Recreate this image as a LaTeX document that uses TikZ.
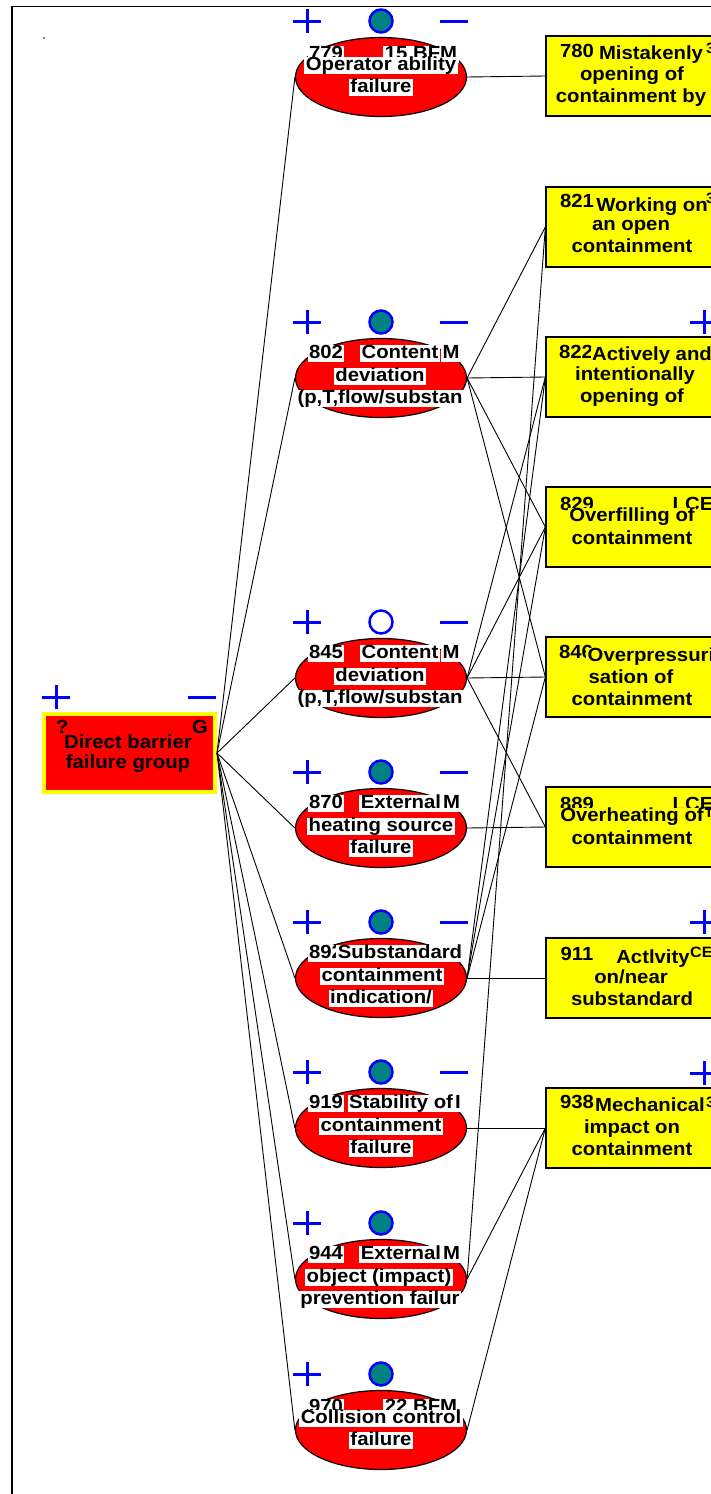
\documentclass[tikz,border=0pt]{standalone}
\usepackage{fontspec}
\setmainfont{Liberation Sans}[FakeStretch=1.07]
\usetikzlibrary{shapes.geometric}
\definecolor{signblue}{RGB}{0,0,255}
\definecolor{lampteal}{RGB}{0,128,128}
\definecolor{bred}{RGB}{255,0,0}
\definecolor{byellow}{RGB}{255,255,0}
\newcommand\signplus[2]{\draw[signline] (#1-14,#2) -- (#1+14,#2) (#1,#2-12) -- (#1,#2+12);}
\newcommand\signminus[2]{\draw[signline] (#1-14,#2) -- (#1+14,#2);}
\begin{document}
\begin{tikzpicture}[x=1pt,y=-1pt,
  txt/.style={font=\fontsize{19}{21}\selectfont\bfseries, inner xsep=1.5pt, inner ysep=0pt, text height=13.5pt, text depth=3.5pt},
  small/.style={font=\fontsize{15}{16}\selectfont\bfseries, inner sep=0pt, anchor=west},
  wl/.style={txt, fill=white},
  yl/.style={txt, fill=byellow},
  rl/.style={txt, fill=bred},
  bubble/.style={ellipse, draw=black, line width=1.2pt, fill=bred, minimum width=171pt, minimum height=79pt, inner sep=0pt},
  card/.style={rectangle, draw=black, line width=1.3pt, fill=byellow, minimum width=170pt, minimum height=80pt, inner sep=0pt},
  link/.style={draw=black, line width=0.9pt},
  signline/.style={draw=signblue, line width=3pt},
  lamp/.style={circle, draw=signblue, line width=2.5pt, fill=lampteal, minimum size=23pt, inner sep=0pt},
]
\useasboundingbox (0,0) rectangle (711,1494);
\clip (0,0) rectangle (711,1494);

% frame
\draw[line width=1.8pt] (12,1494) -- (12,6.5) -- (711,6.5);
\fill (44,38) circle (0.8);

% group node
\node[rectangle, draw=byellow, line width=4pt, fill=bred, minimum width=171pt, minimum height=78pt, inner sep=0pt] (grp) at (129.5,753) {};
\node[txt] (grpid) at (62,728) {?};
\node[txt] (grpcode) at (200,728) {G};
\node[rl] (grpt1) at (128,743) {Direct barrier};
\node[rl] (grpt2) at (128,763) {failure group};
\signplus{56}{697}
\signminus{202}{697}

% barrier bubbles
\node[bubble] (b779) at (381,77) {};
\node[bubble] (b802) at (381,378) {};
\node[bubble] (b845) at (381,678) {};
\node[bubble] (b870) at (381,828) {};
\node[bubble] (b892) at (381,978) {};
\node[bubble] (b919) at (381,1128) {};
\node[bubble] (b944) at (381,1279) {};
\node[bubble] (b970) at (381,1430) {};

% event cards
\node[card] (c780) at (631,76) {};
\node[card] (c821) at (631,227) {};
\node[card] (c822) at (631,377) {};
\node[card] (c829) at (631,527) {};
\node[card] (c846) at (631,677) {};
\node[card] (c889) at (631,827) {};
\node[card] (c911) at (631,978) {};
\node[card] (c938) at (631,1128) {};

% group to bubbles
\foreach \b in {b779,b802,b845,b870,b892,b919,b944,b970}{
  \draw[link] (grp.east) -- (\b.west);
}

% bubbles to cards
\foreach \b/\c in {b779/c780,b802/c821,b802/c822,b802/c829,b802/c846,b845/c822,b845/c829,b845/c846,b845/c889,b870/c889,b892/c822,b892/c829,b892/c846,b892/c911,b919/c938,b944/c821,b944/c938,b970/c938}{
  \draw[link] (\b.east) -- (\c.west);
}

% signs above bubbles
\foreach \cy/\lf in {77/lampteal,378/lampteal,678/white,828/lampteal,978/lampteal,1128/lampteal,1279/lampteal,1430/lampteal}{
  \signplus{307}{\cy-56}
  \node[lamp, fill=\lf] (lamp\cy) at (381,\cy-56) {};
}
\foreach \cy in {77,378,678,828,978,1128}{
  \signminus{453.5}{\cy-56}
}

% signs above cards
\foreach \cy in {322,922,1073}{
  \signplus{704}{\cy}
}

% bubble texts
\node[wl] (b779id) at (326,54) {779};
\node[wl] (b779code) at (421,54) {15 BFM};
\node[wl] (b779t1) at (381,65) {Operator ability};
\node[wl] (b779t2) at (381,87) {failure};

\node[wl] (b802id) at (326,353.5) {802};
\node[wl] (b802t1) at (400,353.5) {Content};
\node[wl] (b802code) at (451,353.5) {M};
\node[wl] (b802t2) at (380,376) {deviation};
\node[wl] (b802t3) at (380,398.5) {(p,T,flow/substan};

\node[wl] (b845id) at (326,653.5) {845};
\node[wl] (b845t1) at (400,653.5) {Content};
\node[wl] (b845code) at (451,653.5) {M};
\node[wl] (b845t2) at (380,676) {deviation};
\node[wl] (b845t3) at (380,698.5) {(p,T,flow/substan};

\node[wl] (b870id) at (326,803.5) {870};
\node[wl] (b870t1) at (401,803.5) {External};
\node[wl] (b870code) at (451.5,803.5) {M};
\node[wl] (b870t2) at (381,826) {heating source};
\node[wl] (b870t3) at (381,848.5) {failure};

\node[wl] (b892id) at (326,953.5) {892};
\node[wl] (b892t1) at (400,953.5) {Substandard};
\node[wl] (b892t2) at (382,976) {containment};
\node[wl] (b892t3) at (381,998.5) {indication/};

\node[wl] (b919id) at (326,1103.5) {919};
\node[wl] (b919t1) at (401,1103.5) {Stability of};
\node[wl] (b919code) at (458,1103.5) {I};
\node[wl] (b919t2) at (381,1126) {containment};
\node[wl] (b919t3) at (381,1148.5) {failure};

\node[wl] (b944id) at (326,1254.5) {944};
\node[wl] (b944t1) at (401,1254.5) {External};
\node[wl] (b944code) at (451.5,1254.5) {M};
\node[wl] (b944t2) at (379,1277) {object (impact)};
\node[wl] (b944t3) at (380,1299.5) {prevention failur};

\node[wl] (b970id) at (326,1407) {970};
\node[wl] (b970code) at (421,1407) {22 BFM};
\node[wl] (b970t1) at (381,1418) {Collision control};
\node[wl] (b970t2) at (381,1440) {failure};

% card texts
\node[txt] (c780id) at (577,52) {780};
\node[txt] (c780t1) at (651,54) {Mistakenly};
\node[small] (c780code) at (706,48) {3};
\node[txt] (c780t2) at (632,75) {opening of};
\node[txt] (c780t3) at (631,97) {containment by};

\node[txt] (c821id) at (577,202) {821};
\node[txt] (c821t1) at (652,206) {Working on};
\node[small] (c821code) at (706,198) {3};
\node[txt] (c821t2) at (631,225) {an open};
\node[txt] (c821t3) at (632,247) {containment};

\node[txt] (c822id) at (576,353) {822};
\node[yl] (c822t1) at (652,355) {Actively and};
\node[txt] (c822t2) at (635,375) {intentionally};
\node[txt] (c822t3) at (632,397) {opening of};

\node[txt] (c829id) at (577,505) {829};
\node[txt] (c829code) at (693,505) {LCE};
\node[yl] (c829t1) at (632,516) {Overfilling of};
\node[txt] (c829t2) at (632,539) {containment};

\node[txt] (c846id) at (576,653) {846};
\node[yl] (c846t1) at (651,656) {Overpressuri};
\node[txt] (c846t2) at (631,678) {sation of};
\node[txt] (c846t3) at (632,700) {containment};

\node[txt] (c889id) at (577,805) {889};
\node[txt] (c889code) at (693,805) {LCE};
\node[yl] (c889t1) at (632,816) {Overheating of};
\node[small] (c889code2) at (704,812) {T};
\node[txt] (c889t2) at (632,839) {containment};

\node[txt] (c911id) at (577,955) {911};
\node[txt] (c911t1) at (653,958) {Actlvity};
\node[small] (c911code) at (690,952) {CE};
\node[txt] (c911t2) at (631,978) {on/near};
\node[txt] (c911t3) at (632,1000) {substandard};

\node[txt] (c938id) at (577,1103) {938};
\node[txt] (c938t1) at (650,1106) {Mechanical};
\node[small] (c938code) at (706,1102) {3};
\node[txt] (c938t2) at (632,1128) {impact on};
\node[txt] (c938t3) at (632,1150) {containment};
\end{tikzpicture}
\end{document}
